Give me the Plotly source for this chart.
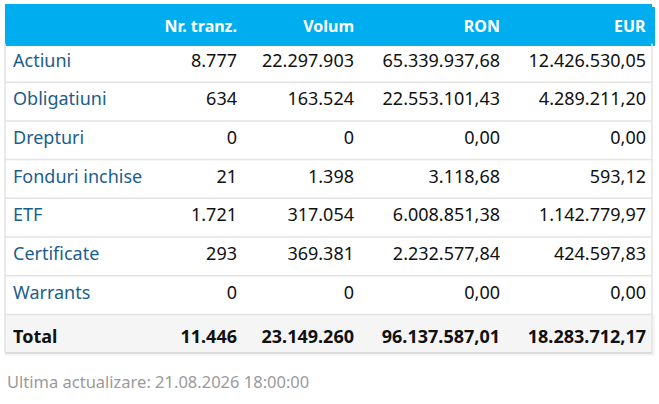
import plotly.graph_objects as go

headers = ["", "Nr.\u00a0tranz.", "Volum", "RON", "EUR"]
categories = ["Actiuni", "Obligatiuni", "Drepturi", "Fonduri inchise", "ETF",
              "Certificate", "Warrants", "Total"]
nr_tranz = ["8.777", "634", "0", "21", "1.721", "293", "0", "11.446"]
volum = ["22.297.903", "163.524", "0", "1.398", "317.054", "369.381", "0", "23.149.260"]
ron = ["65.339.937,68", "22.553.101,43", "0,00", "3.118,68", "6.008.851,38",
       "2.232.577,84", "0,00", "96.137.587,01"]
eur = ["12.426.530,05", "4.289.211,20", "0,00", "593,12", "1.142.779,97",
       "424.597,83", "0,00", "18.283.712,17"]
footer = "Ultima actualizare: 21.08.2026 18:00:00"

W, H = 659, 404
left, right = 5, 654
blue_top, top = 4, 7
head_h, row_h = 36.5, 38.7
n = len(categories)


def bold_last(vals):
    return vals[:-1] + ["<b>" + vals[-1] + "</b>"]


row_fill = ["white"] * (n - 1) + ["#f5f5f5"]
label_col = ["#1a5e8c"] * (n - 1) + ["#111111"]

fig = go.Figure(go.Table(
    columnwidth=[152, 88, 117, 146, 146],
    header=dict(
        values=["<b>" + h + "</b>" for h in headers],
        fill_color="#00aeef",
        line=dict(color="#00aeef", width=1),
        align=["left", "right", "right", "right", "right"],
        font=dict(family="Noto Sans", size=16, color="white"),
        height=head_h,
    ),
    cells=dict(
        values=[bold_last(categories), bold_last(nr_tranz), bold_last(volum),
                bold_last(ron), bold_last(eur)],
        fill_color=[row_fill] * 5,
        line=dict(color=[row_fill] * 5, width=1),
        align=["left", "right", "right", "right", "right"],
        font=dict(family="Noto Sans", size=18,
                  color=[label_col, "#111111", "#111111", "#111111", "#111111"]),
        height=row_h,
    ),
))

# header strip above the table, separators and outer border
x0 = left / W
x1 = (right - 2) / W
shapes = [dict(type="rect", xref="paper", yref="paper",
               x0=x0, x1=x1, y0=1 - (top + 1) / H, y1=1 - blue_top / H,
               fillcolor="#00aeef", line=dict(width=0))]
for i in range(1, n):
    y = top + head_h + i * row_h
    shapes.append(dict(type="line", xref="paper", yref="paper",
                       x0=x0, x1=x1, y0=1 - y / H, y1=1 - y / H,
                       line=dict(color="#e3e3e3", width=1.5)))
bottom = top + head_h + n * row_h
shapes.append(dict(type="line", xref="paper", yref="paper",
                   x0=x0, x1=x1, y0=1 - bottom / H, y1=1 - bottom / H,
                   line=dict(color="#dddddd", width=2)))
for x in (x0, x1):
    shapes.append(dict(type="line", xref="paper", yref="paper",
                       x0=x, x1=x, y0=1 - (top + head_h) / H, y1=1 - bottom / H,
                       line=dict(color="#e3e3e3", width=1.5)))

fig.update_traces(domain=dict(x=[left / W, right / W], y=[0, 1 - top / H]))
fig.update_layout(
    width=W, height=H,
    margin=dict(l=0, r=0, t=0, b=0),
    paper_bgcolor="white",
    shapes=shapes,
    annotations=[dict(text=footer, xref="paper", yref="paper",
                      x=left / W, y=1 - 381 / H, xanchor="left", yanchor="middle",
                      showarrow=False,
                      font=dict(family="Noto Sans", size=16.5, color="#9a9a9a"))],
)

fig.write_html("out.html", config={"displayModeBar": False},
               post_script="document.body.style.margin = '0';")
